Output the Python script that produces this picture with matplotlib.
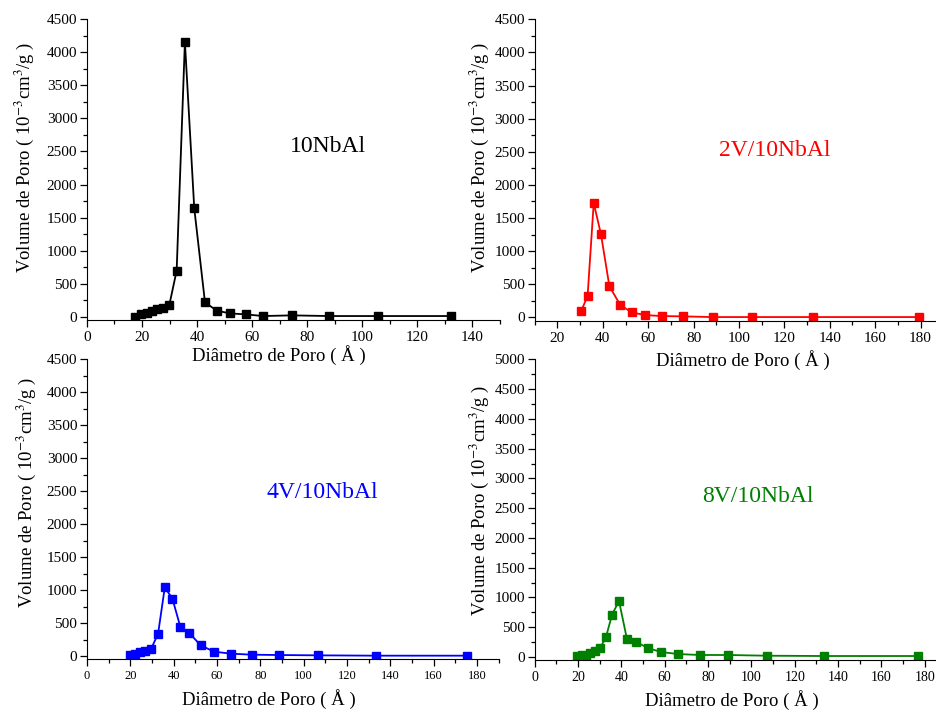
import numpy as np
import matplotlib
matplotlib.use("Agg")
import matplotlib.pyplot as plt

plt.rcParams["font.family"] = ["Liberation Serif", "DejaVu Serif"]
plt.rcParams["mathtext.fontset"] = "stix"

W, H = 937, 710

# pore size distributions
d_nbal = [17.5, 19.6, 21.7, 23.5, 25.6, 27.7, 29.9, 32.6, 35.6, 39.0, 42.9, 47.2, 52.0, 57.7, 64.1, 74.4, 88.1, 105.7, 132.4]
v_nbal = [0, 35, 60, 85, 110, 135, 170, 697, 4157, 1641, 217, 91, 50, 35, 10, 20, 10, 10, 10]

d_2v = [30.4, 33.3, 36.0, 39.2, 42.9, 47.7, 52.7, 58.6, 66.1, 75.5, 88.4, 105.9, 132.7, 179.2]
v_2v = [91, 323, 1727, 1253, 470, 187, 76, 35, 20, 15, 5, 5, 5, 5]

d_4v = [19.9, 22.2, 24.5, 26.8, 29.5, 32.8, 35.9, 39.4, 43.1, 47.3, 52.4, 58.6, 66.3, 76.0, 88.4, 106.5, 133.5, 175.3]
v_4v = [15, 35, 56, 77, 102, 337, 1041, 872, 439, 347, 163, 66, 36, 20, 15, 10, 5, 5]

d_8v = [19.5, 21.8, 23.8, 25.7, 28.0, 30.3, 32.9, 35.7, 38.9, 42.6, 46.9, 52.2, 58.3, 66.2, 76.2, 89.2, 107.2, 133.4, 176.8]
v_8v = [17, 28, 20, 73, 101, 157, 336, 712, 942, 297, 252, 151, 84, 50, 34, 34, 22, 17, 17]

names = ["10NbAl", "2V/10NbAl", "4V/10NbAl", "8V/10NbAl"]
colors = ["black", "red", "blue", "green"]

fig = plt.figure(figsize=(W / 100, H / 100), dpi=100)


def add_panel(left, top, right, bottom):
    return fig.add_axes([left / W, 1 - bottom / H, (right - left) / W, (bottom - top) / H])


panels = [
    # box (px), xlim, ylim, tick font size, label centre, ylabel centre, name centre
    dict(box=(87, 19.3, 499.5, 320), xlim=(0, 150), ylim=(-50, 4500), xt=11,
         xl=(279, 355), yl=(24, 157), nm=(328, 146)),
    dict(box=(534.7, 19.3, 943.3, 320.7), xlim=(10, 190), ylim=(-50, 4500), xt=11,
         xl=(743, 360), yl=(479, 157), nm=(775, 151)),
    dict(box=(87, 359.3, 498.7, 659.3), xlim=(0, 190), ylim=(-50, 4500), xt=9,
         xl=(269, 699), yl=(26, 492), nm=(322, 493)),
    dict(box=(534.7, 359.3, 946.4, 660), xlim=(0, 190), ylim=(-50, 5000), xt=10,
         xl=(732, 700), yl=(479, 500), nm=(758, 496)),
]
data = [(d_nbal, v_nbal), (d_2v, v_2v), (d_4v, v_4v), (d_8v, v_8v)]

for p, (x, y), name, c in zip(panels, data, names, colors):
    ax = add_panel(*p["box"])
    ax.plot(x, y, "-s", color=c, lw=1.3, ms=5.8)
    ax.spines["top"].set_visible(False)
    ax.spines["right"].set_visible(False)
    ax.set_xticks(np.arange(0, p["xlim"][1] + 1, 20))
    ax.set_xticks(np.arange(0, p["xlim"][1] + 1, 10), minor=True)
    ax.set_yticks(np.arange(0, p["ylim"][1] + 1, 500))
    ax.set_yticks(np.arange(0, p["ylim"][1] + 1, 250), minor=True)
    ax.set_xlim(*p["xlim"])
    ax.set_ylim(*p["ylim"])
    ax.tick_params(which="major", direction="out", length=5, width=0.9)
    ax.tick_params(which="minor", direction="out", length=3, width=0.9)
    ax.tick_params(axis="y", labelsize=11, pad=2)
    ax.tick_params(axis="x", labelsize=p["xt"], pad=3)
    ax.patch.set_alpha(0)

    bx = p["box"]
    aw, ah = bx[2] - bx[0], bx[3] - bx[1]
    ax.set_xlabel("Diâmetro de Poro ( Å )", fontsize=13.5, va="center", ha="center")
    ax.xaxis.set_label_coords((p["xl"][0] - bx[0]) / aw, (bx[3] - p["xl"][1]) / ah)
    ax.set_ylabel(r"Volume de Poro ( 10$^{-3}$cm$^{3}$/g )", fontsize=13.5, va="center", ha="center")
    ax.yaxis.set_label_coords((p["yl"][0] - bx[0]) / aw, (bx[3] - p["yl"][1]) / ah)
    ax.text((p["nm"][0] - bx[0]) / aw, (bx[3] - p["nm"][1]) / ah, name, color=c,
            fontsize=17, ha="center", va="center", transform=ax.transAxes)

fig.savefig("out.png", dpi=100)
